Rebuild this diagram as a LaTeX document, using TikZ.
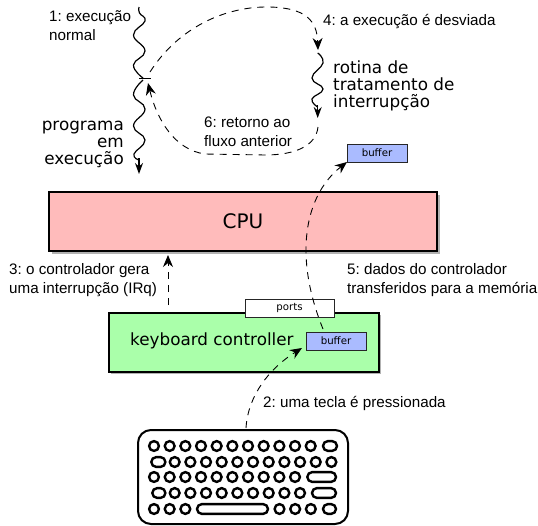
\documentclass[tikz,border=0pt]{standalone}
\usepackage{fontspec}
\setmainfont{Liberation Sans}
\newfontfamily\dv{DejaVu Sans}
\usetikzlibrary{arrows.meta}
\frenchspacing
\tikzset{
  x=1pt,y=-1pt,
  lab/.style={font=\frenchspacing\fontsize{15.2}{18.9}\selectfont,align=left,inner sep=0pt},
  biglab/.style={font=\dv\fontsize{16.8}{17}\selectfont,inner sep=0pt},
  boxshape/.style={draw=black,line width=1.8pt,inner sep=0pt},
  smallbox/.style={draw=black!85,line width=0.9pt,inner sep=0pt,minimum width=60pt,minimum height=18pt,font=\dv\fontsize{10.2}{12}\selectfont},
  dash arrow/.style={line width=0.9pt,dash pattern=on 7pt off 6pt,-{Stealth[length=12pt,width=10pt]}},
  solid arrow/.style={line width=1.2pt,-{Stealth[length=11pt,width=8pt]}},
  wave/.style={line width=1.2pt,smooth,tension=0.8},
  key/.style={draw=black,line width=2.4pt,fill=white},
}
\definecolor{cpupink}{HTML}{FFBBBB}
\definecolor{kbgreen}{HTML}{AAFFAA}
\definecolor{bufblue}{HTML}{AABBFF}
\newcommand{\keyc}[2]{\draw[key] (#1,#2) circle[radius=4.9pt];}
\newcommand{\keyw}[3]{\draw[key,rounded corners=4.9pt] (#1,#3-4.9) rectangle (#2,#3+4.9);}
\begin{document}
\begin{tikzpicture}
\useasboundingbox (0,0) rectangle (538,525);
% wavy program lines
\draw[wave] plot coordinates {(139,7) (139.5,13) (145,21) (133.5,35) (145,51) (133.5,65) (143,78)};
\coordinate (tl) at (139,78);
\coordinate (tr) at (151,78);
\draw[line width=1pt] (tl) -- (tr);
\draw[wave] plot coordinates {(143,80) (133.5,95) (145,109) (133.5,126) (145,140) (134,154) (139,160)};
\coordinate (w2s) at (139,158);
\coordinate (w2e) at (139,174);
\draw[solid arrow] (w2s) -- (w2e);
\draw[wave] plot coordinates {(317.7,53) (323,63) (312,78) (323,89) (312,99) (317.7,107)};
\coordinate (w3s) at (317.7,105);
\coordinate (w3e) at (317.7,118);
\draw[solid arrow] (w3s) -- (w3e);
% dashed loop
\coordinate (ld1) at (150,72);
\coordinate (ld2) at (318,50);
\coordinate (lr1) at (318,127);
\coordinate (lr2) at (148,83);
\draw[dash arrow] (ld1) .. controls (178,28) and (225,6) .. (270,7) .. controls (305,8) and (317,20) .. (ld2);
\draw[dash arrow] (lr1) .. controls (316,146) and (295,155) .. (265,155) -- (205,154) .. controls (175,150) and (157,120) .. (lr2);
% labels top
\node[lab,anchor=north west] (l1) at (49,10.5) {1: execução\\normal};
\node[biglab,anchor=north east,align=right] (prog) at (124,121) {programa\\em\\execução};
\node[lab,anchor=west] (l4) at (323,21.5) {4: a execução é desviada};
\node[biglab,anchor=north west,align=left] (rot) at (333,61) {rotina de\\tratamento de\\interrupção};
\node[lab,anchor=north west] (l6) at (204,116.5) {6: retorno ao\\fluxo anterior};
% CPU
\fill[black!30] (52,195) rectangle (440,254);
\node[boxshape,fill=cpupink,minimum width=388pt,minimum height=59pt,font=\dv\fontsize{20}{22}\selectfont] (cpu) at (243,221.5) {CPU};
% controller
\fill[black!30] (111,315) rectangle (381,374);
\node[boxshape,fill=kbgreen,minimum width=270pt,minimum height=59pt,anchor=north west] (kc) at (108,312) {};
\node[biglab,anchor=west] (kct) at (130,341) {keyboard controller};
\node[draw=black!85,line width=0.9pt,fill=white,minimum width=89pt,minimum height=18pt,inner sep=0pt,font=\dv\fontsize{10.2}{12}\selectfont] (ports) at (289.5,308) {ports};
\node[smallbox,fill=bufblue] (buf1) at (336,341) {buffer};
\node[smallbox,fill=bufblue] (buf2) at (377,153) {buffer};
% arrows
\coordinate (a3a) at (168,305);
\coordinate (a3b) at (168,255);
\draw[dash arrow] (a3a) -- (a3b);
\coordinate (a2a) at (246,428);
\draw[dash arrow] (a2a) .. controls (248,395) and (270,368) .. (302,348);
\coordinate (a5a) at (323,329);
\draw[dash arrow] (a5a) .. controls (293,255) and (305,195) .. (347,162);
% labels mid
\node[lab,anchor=north west] (l3) at (9,263.5) {3: o controlador gera\\uma interrupção (IRq)};
\node[lab,anchor=north west] (l5) at (347,263.5) {5: dados do controlador\\transferidos para a memória};
\node[lab,anchor=west] (l2) at (263,403) {2: uma tecla é pressionada};
% keyboard
\draw[draw=black,line width=2pt,rounded corners=13pt,fill=white] (138,430) rectangle (348,524);
\foreach \i in {0,...,10} {\keyc{154+15.67*\i}{446}}
\keyw{323}{337}{446}
\keyw{151.3}{165.4}{462}
\foreach \i in {0,...,10} {\keyc{174.7+15.67*\i}{462}}
\foreach \i in {0,...,9} {\keyc{154+15.67*\i}{477}}
\keyw{307.3}{336}{477}
\keyw{152.3}{165.4}{493}
\foreach \i in {0,...,8} {\keyc{174.7+15.67*\i}{493}}
\keyw{312}{336}{493}
\foreach \i in {0,1,2} {\keyc{154+15.67*\i}{509}}
\keyw{197}{268}{509}
\foreach \i in {0,1,2} {\keyc{279.5+15.67*\i}{509}}
\keyw{323}{336}{509}
\end{tikzpicture}
\end{document}
